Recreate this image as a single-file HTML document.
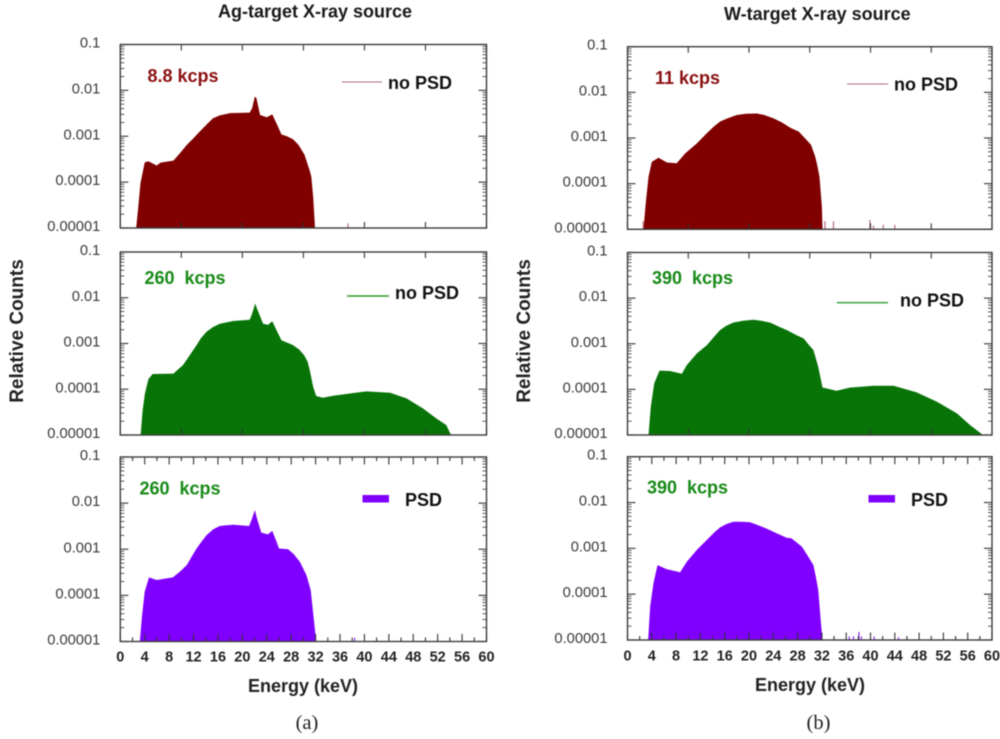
<!DOCTYPE html>
<html lang="en">
<head>
<meta charset="utf-8">
<title>Ag-target and W-target X-ray source spectra</title>
<style>
html,body{margin:0;padding:0;background:#fff;}
body{width:1000px;height:739px;overflow:hidden;}
svg{display:block;filter:blur(0.45px);}
text{font-family:"Liberation Sans",sans-serif;white-space:pre;}
.tick{font-size:14.7px;fill:#3a3a3a;text-anchor:end;}
.xt{font-size:14.5px;font-weight:bold;fill:#222;text-anchor:middle;}
.ttl{font-size:18px;font-weight:bold;fill:#1a1a1a;}
.axt{font-size:18px;font-weight:bold;fill:#222;text-anchor:middle;}
.yt{font-size:19px;font-weight:bold;fill:#222;text-anchor:middle;}
.rate{font-size:18px;font-weight:bold;}
.leg{font-size:18px;font-weight:bold;fill:#111;}
.cap{font-family:"Liberation Serif",serif;font-size:20.5px;fill:#222;text-anchor:middle;}
</style>
</head>
<body>
<svg id="chart" xmlns="http://www.w3.org/2000/svg" width="1000" height="739" viewBox="0 0 1000 739">
  <text class="ttl" x="218" y="17.5">Ag-target X-ray source</text>
  <text class="ttl" x="724" y="20">W-target X-ray source</text>
  <text class="yt" transform="translate(23,331) rotate(-90)">Relative Counts</text>
  <text class="yt" transform="translate(530,331) rotate(-90)">Relative Counts</text>
  <text class="axt" x="303" y="692">Energy (keV)</text>
  <text class="axt" x="810" y="691">Energy (keV)</text>
  <text class="cap" x="307" y="729">(a)</text>
  <text class="cap" x="818.5" y="729">(b)</text>
</svg>
<script>
// ---- tick labels ----
const xTickLabels = [0,4,8,12,16,20,24,28,32,36,40,44,48,52,56,60];
const yTickValues = [0.1,0.01,0.001,0.0001,0.00001];
const yTickLabels = ["0.1","0.01","0.001","0.0001","0.00001"];

// ---- Ag target, no PSD, 8.8 kcps ----
const agLowEnergy = [2.6,2.95,3.3,4.0,4.6,5.95,6.6,8.7,9.8,10.9,12,13,14.1,15.2,16.3,18,21.2,21.6,22.05,22.3,22.9,24,24.9,25.6,26.4,27.3,28.3,29.2,30.2,31,31.3,31.6,31.9];
const agLowCounts = [1e-5,2.9e-5,9.4e-5,2.7e-4,2.85e-4,2.3e-4,2.66e-4,2.95e-4,4.3e-4,6.5e-4,9.1e-4,1.26e-3,1.78e-3,2.47e-3,2.85e-3,3.2e-3,3.28e-3,4.1e-3,7.3e-3,6.8e-3,2.9e-3,2.6e-3,3.0e-3,1.9e-3,1.1e-3,1.0e-3,8.6e-4,6.5e-4,3.9e-4,1.84e-4,1.3e-4,4.8e-5,1e-5];
const agLowSpikeEnergy = [37.3];
const agLowSpikeCounts = [1.26e-5];

// ---- Ag target, no PSD, 260 kcps ----
const agHighEnergy = [3.33,3.66,4.04,4.6,5.3,8.7,10.3,11.4,12.5,13.2,14.1,15.2,16.3,17.4,18.5,21.2,21.6,22.1,22.4,23.4,24.2,24.9,25.6,26.4,28.3,29.3,30.1,30.7,31.1,31.6,32.1,33.2,34.9,37.6,40.3,44.2,46.9,49.6,51.8,53.4,54.1];
const agHighCounts = [1e-5,3.5e-5,8.1e-5,1.66e-4,2.15e-4,2.2e-4,3.4e-4,5.6e-4,9.2e-4,1.3e-3,1.8e-3,2.3e-3,2.7e-3,2.9e-3,3.1e-3,3.3e-3,4.5e-3,7.5e-3,5.8e-3,2.7e-3,2.55e-3,3.07e-3,1.95e-3,1.18e-3,9.2e-4,7.4e-4,5.6e-4,4.0e-4,2.4e-4,1.13e-4,7.1e-5,6.5e-5,7.2e-5,8.1e-5,9.0e-5,8.4e-5,6.3e-5,3.8e-5,2.3e-5,1.65e-5,1.05e-5];
const agHighSpikeEnergy = [];
const agHighSpikeCounts = [];

// ---- Ag target, PSD, 260 kcps ----
const agPsdEnergy = [3.2,3.55,4,4.7,5.95,8.6,9.8,10.9,11.7,12.5,13.3,14.1,15.2,16.3,17.2,18.5,21.1,21.5,22.05,22.4,23.1,24.2,24.9,25.5,26,27.5,28.4,29.4,30.5,31.2,31.6,32.1];
const agPsdCounts = [1e-5,3.5e-5,1.2e-4,2.45e-4,2.15e-4,2.45e-4,3.3e-4,4.55e-4,6.9e-4,1.04e-3,1.45e-3,2.0e-3,2.7e-3,3.2e-3,3.3e-3,3.4e-3,3.2e-3,4.3e-3,7.1e-3,4.6e-3,2.3e-3,2.1e-3,2.5e-3,1.58e-3,1.04e-3,1.0e-3,7.9e-4,5.4e-4,2.75e-4,1.3e-4,4.1e-5,1e-5];
const agPsdSpikeEnergy = [38.4];
const agPsdSpikeCounts = [1.2e-5];

// ---- W target, no PSD, 11 kcps ----
const wLowEnergy = [2.63,3.0,3.46,4,5.1,6.5,8.1,9.5,11.4,13.05,14.2,15.25,16.5,18,19.5,21.3,22.5,24,25.4,26.8,28.2,29.5,30.2,30.9,31.3,31.6,32,32.1];
const wLowCounts = [1e-5,3.7e-5,1.42e-4,3.0e-4,3.7e-4,2.9e-4,2.8e-4,4.6e-4,7.6e-4,1.27e-3,1.78e-3,2.3e-3,2.7e-3,3.2e-3,3.4e-3,3.45e-3,3.2e-3,2.7e-3,2.2e-3,1.68e-3,1.38e-3,9e-4,7.1e-4,3.9e-4,2.3e-4,1.42e-4,3.1e-5,1e-5];
const wLowSpikeEnergy = [2.6,32.5,33.9,39.9,40.5,42.1,44];
const wLowSpikeCounts = [1.5e-5,1.5e-5,1.5e-5,1.6e-5,1.2e-5,1.25e-5,1.25e-5];

// ---- W target, no PSD, 390 kcps ----
const wHighEnergy = [3.46,3.84,4.4,5.27,7,8.94,9.76,11.4,13.05,14.2,15.25,16.3,17.4,19,20.7,22,23.5,25,26.2,27.6,29,29.9,30.6,31,31.4,32.1,34.4,36.6,40.5,43.8,47.6,50.9,54.2,56.4,58.3];
const wHighCounts = [1e-5,4.2e-5,1.35e-4,2.57e-4,2.53e-4,2.2e-4,3.4e-4,6.1e-4,9.3e-4,1.4e-3,2.0e-3,2.5e-3,2.9e-3,3.2e-3,3.35e-3,3.2e-3,2.9e-3,2.35e-3,2.0e-3,1.6e-3,1.3e-3,9.3e-4,7.3e-4,4.8e-4,3.1e-4,1.1e-4,9.3e-5,1.09e-4,1.2e-4,1.2e-4,8.6e-5,5.4e-5,3.0e-5,1.65e-5,1.05e-5];
const wHighSpikeEnergy = [];
const wHighSpikeCounts = [];

// ---- W target, PSD, 390 kcps ----
const wPsdEnergy = [3.4,3.73,4.28,4.94,6.47,8.67,9.76,11.4,13.6,14.4,15.25,16.3,17.44,18.8,20.2,21.5,22.9,24.5,26.2,27,28.7,29.6,30.6,31,31.4,31.8,32.1];
const wPsdCounts = [1e-5,5.4e-5,1.74e-4,4.3e-4,3.5e-4,3.0e-4,5.1e-4,9.2e-4,1.8e-3,2.3e-3,2.87e-3,3.4e-3,3.8e-3,3.8e-3,3.7e-3,3.2e-3,2.7e-3,2.15e-3,1.7e-3,1.65e-3,1.09e-3,7.1e-4,4.3e-4,2.4e-4,1.23e-4,2.75e-5,1e-5];
const wPsdSpikeEnergy = [36.5,37.2,38.1,38.5,40.6,44.6];
const wPsdSpikeCounts = [1.2e-5,1.2e-5,1.5e-5,1.2e-5,1.2e-5,1.15e-5];

// ---- panel layout (geometry only) ----
const panels = [
  {id:'ag-low', l:120.3,r:486.5,t:44.5,b:228,e:agLowEnergy,c:agLowCounts,se:agLowSpikeEnergy,sc:agLowSpikeCounts,color:'#800000',step:10,labels:false,
   rate:'8.8 kcps',rateColor:'#8a1010',rx:147.5,ry:82,lx1:342,lx2:382,ly:82,lw:0.9,lc:'#a8687a',tx:388,ty:89,leg:'no PSD'},
  {id:'ag-high', l:120.3,r:486.5,t:252,b:435,e:agHighEnergy,c:agHighCounts,se:agHighSpikeEnergy,sc:agHighSpikeCounts,color:'#087408',step:10,labels:false,
   rate:'260  kcps',rateColor:'#178a17',rx:144.5,ry:284,lx1:347,lx2:389,ly:296,lw:1.4,lc:'#2f9a2f',tx:395,ty:299,leg:'no PSD'},
  {id:'ag-psd', l:120.3,r:486.5,t:457,b:641.5,e:agPsdEnergy,c:agPsdCounts,se:agPsdSpikeEnergy,sc:agPsdSpikeCounts,color:'#7f00ff',step:2,labels:true,xly:661.5,
   rate:'260  kcps',rateColor:'#178a17',rx:139.5,ry:494.5,bx:362.5,by:495,tx:405,ty:506,leg:'PSD'},
  {id:'w-low', l:627.5,r:992,t:46.7,b:229.3,e:wLowEnergy,c:wLowCounts,se:wLowSpikeEnergy,sc:wLowSpikeCounts,color:'#800000',step:10,labels:false,
   rate:'11 kcps',rateColor:'#8a1010',rx:655,ry:84,lx1:847,lx2:888,ly:84,lw:0.9,lc:'#a8687a',tx:894,ty:90.5,leg:'no PSD'},
  {id:'w-high', l:627.5,r:992,t:252.5,b:435,e:wHighEnergy,c:wHighCounts,se:wHighSpikeEnergy,sc:wHighSpikeCounts,color:'#087408',step:10,labels:false,
   rate:'390  kcps',rateColor:'#178a17',rx:652,ry:284,lx1:837,lx2:888,ly:302.7,lw:1.4,lc:'#2f9a2f',tx:900,ty:306.5,leg:'no PSD'},
  {id:'w-psd', l:627.5,r:992,t:456.7,b:640,e:wPsdEnergy,c:wPsdCounts,se:wPsdSpikeEnergy,sc:wPsdSpikeCounts,color:'#7f00ff',step:2,labels:true,xly:660.5,
   rate:'390  kcps',rateColor:'#178a17',rx:647,ry:493.5,bx:868.5,by:495,tx:911,ty:506,leg:'PSD'}
];

const NS = 'http://www.w3.org/2000/svg';
const root = document.getElementById('chart');
const X_MIN = 0, X_MAX = 60, Y_MIN = 1e-5, Y_MAX = 0.1;

function make(tag, parent) {
  const el = document.createElementNS(NS, tag);
  parent.appendChild(el);
  return el;
}
function line(parent, x1, y1, x2, y2, color, width) {
  const el = make('line', parent);
  el.setAttribute('x1', x1);
  el.setAttribute('y1', y1);
  el.setAttribute('x2', x2);
  el.setAttribute('y2', y2);
  el.setAttribute('stroke', color);
  el.setAttribute('stroke-width', width);
  return el;
}

panels.forEach(function (p) {
  const xScale = function (v) { return p.l + (v - X_MIN) / (X_MAX - X_MIN) * (p.r - p.l); };
  const yScale = function (v) {
    return p.b - (Math.log10(v) - Math.log10(Y_MIN)) / (Math.log10(Y_MAX) - Math.log10(Y_MIN)) * (p.b - p.t);
  };

  const g = make('g', root);
  
  

  // filled spectrum
  let d = 'M' + xScale(p.e[0]).toFixed(2) + ' ' + p.b;
  p.e.forEach(function (en, i) {
    d += 'L' + xScale(en).toFixed(2) + ' ' + yScale(p.c[i]).toFixed(2);
  });
  d += 'L' + xScale(p.e[p.e.length - 1]).toFixed(2) + ' ' + p.b + 'Z';
  const area = make('path', g);
  area.setAttribute('d', d);
  area.setAttribute('fill', p.color);
  
  

  // isolated count spikes
  p.se.forEach(function (en, i) {
    const s = line(g, xScale(en), p.b, xScale(en), yScale(p.sc[i]), p.color === '#800000' ? '#a8505e' : p.color, 1);
    
    
  });

  // x ticks
  for (let v = X_MIN; v <= X_MAX; v += p.step) {
    const major = p.step === 10 || v % 4 === 0;
    const len = p.step === 10 ? 6 : (major ? 7.5 : 4);
    const bottom = line(g, xScale(v), p.b, xScale(v), p.b - len, '#333', 1.1);
    
    
    const top = line(g, xScale(v), p.t, xScale(v), p.t + len, '#333', 1.1);
    
    
  }

  // y ticks: majors at decades with log minors between
  yTickValues.forEach(function (v, i) {
    [[p.l, 1], [p.r, -1]].forEach(function (side) {
      const mj = line(g, side[0], yScale(v), side[0] + side[1] * 8, yScale(v), '#333', 1.1);
      
      
      if (i > 0) {
        for (let m = 2; m <= 9; m++) {
          const mn = line(g, side[0], yScale(v * m), side[0] + side[1] * 4, yScale(v * m), '#444', 0.9);
          
          
        }
      }
    });
    const lab = make('text', g);
    lab.setAttribute('class', 'tick');
    lab.setAttribute('x', p.l - 20);
    lab.setAttribute('y', yScale(v) + 3);
    
    
    lab.textContent = yTickLabels[i];
  });

  // x tick labels
  if (p.labels) {
    xTickLabels.forEach(function (v) {
      const lab = make('text', g);
      lab.setAttribute('class', 'xt');
      lab.setAttribute('x', xScale(v));
      lab.setAttribute('y', p.xly);
      
      
      lab.textContent = v;
    });
  }

  // frame
  const frame = make('rect', g);
  frame.setAttribute('x', p.l);
  frame.setAttribute('y', p.t);
  frame.setAttribute('width', p.r - p.l);
  frame.setAttribute('height', p.b - p.t);
  frame.setAttribute('fill', 'none');
  frame.setAttribute('stroke', '#3c3c3c');
  frame.setAttribute('stroke-width', 1.4);
  
  

  // count-rate annotation
  const rate = make('text', g);
  rate.setAttribute('class', 'rate');
  rate.setAttribute('x', p.rx);
  rate.setAttribute('y', p.ry);
  rate.setAttribute('fill', p.rateColor);
  
  
  rate.textContent = p.rate;

  // legend
  if (p.bx !== undefined) {
    const sw = make('rect', g);
    sw.setAttribute('x', p.bx);
    sw.setAttribute('y', p.by);
    sw.setAttribute('width', 26.5);
    sw.setAttribute('height', 7.5);
    sw.setAttribute('fill', p.color);
    
    
  } else {
    const sw = line(g, p.lx1, p.ly, p.lx2, p.ly, p.lc, p.lw);
    
    
  }
  const legText = make('text', g);
  legText.setAttribute('class', 'leg');
  legText.setAttribute('x', p.tx);
  legText.setAttribute('y', p.ty);
  
  
  legText.textContent = p.leg;
});
</script>
</body>
</html>
